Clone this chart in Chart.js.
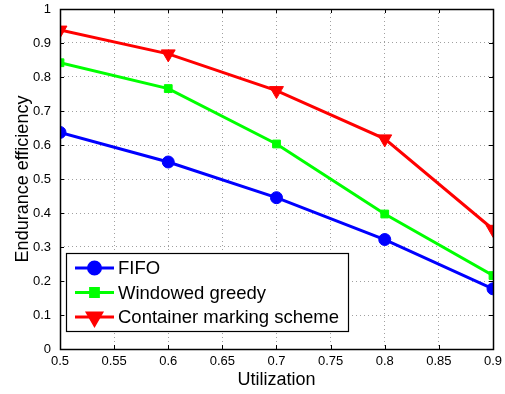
<!DOCTYPE html>
<html><head><meta charset="utf-8">
<script src="https://cdn.jsdelivr.net/npm/chart.js@4"></script>
<style>html,body{margin:0;padding:0;background:#fff}#wrap{width:505px;height:394px}</style>
</head><body><div id="wrap"><canvas id="c" width="505" height="394"></canvas></div>
<script>
const utilization = [0.5, 0.6, 0.7, 0.8, 0.9];
const fifo = [0.637, 0.550, 0.445, 0.322, 0.177];
const windowedGreedy = [0.842, 0.766, 0.603, 0.397, 0.216];
const containerMarking = [0.938, 0.868, 0.760, 0.618, 0.352];
const xTicks = [0.5, 0.55, 0.6, 0.65, 0.7, 0.75, 0.8, 0.85, 0.9];
const yTicks = [0, 0.1, 0.2, 0.3, 0.4, 0.5, 0.6, 0.7, 0.8, 0.9, 1];
const seriesNames = ['FIFO', 'Windowed greedy', 'Container marking scheme'];

const FONT = 'Liberation Sans, Arial, sans-serif';
const pts = arr => utilization.map((x, i) => ({x, y: arr[i]}));

const framePlugin = {
  id: 'frame',
  afterDatasetsDraw(chart) {
    const {ctx, chartArea: a, scales} = chart;
    ctx.save();
    ctx.strokeStyle = '#000';
    ctx.lineWidth = 1;
    ctx.beginPath();
    xTicks.forEach(v => {
      const px = Math.round(scales.x.getPixelForValue(v)) + 0.5;
      ctx.moveTo(px, a.bottom); ctx.lineTo(px, a.bottom - 4);
      ctx.moveTo(px, a.top); ctx.lineTo(px, a.top + 4);
    });
    yTicks.forEach(v => {
      const py = Math.round(scales.y.getPixelForValue(v)) + 0.5;
      ctx.moveTo(a.left, py); ctx.lineTo(a.left + 4, py);
      ctx.moveTo(a.right, py); ctx.lineTo(a.right - 4, py);
    });
    ctx.stroke();
    ctx.lineWidth = 1.5;
    ctx.strokeRect(Math.round(a.left) + 0.5, Math.round(a.top) + 0.5, Math.round(a.right - a.left), Math.round(a.bottom - a.top));
    // legend inside
    const lx = 66, ly = 253, lw = 282, lh = 78;
    ctx.fillStyle = '#fff';
    ctx.fillRect(lx, ly, lw, lh);
    ctx.lineWidth = 1.2;
    ctx.strokeRect(lx + 0.5, ly + 0.5, lw, lh);
    chart.data.datasets.forEach((ds, i) => {
      const cy = ly + 15 + i * 24.5;
      ctx.strokeStyle = ds.borderColor;
      ctx.lineWidth = 3;
      ctx.beginPath(); ctx.moveTo(lx + 9, cy); ctx.lineTo(lx + 48, cy); ctx.stroke();
      Chart.helpers.drawPoint(ctx, {pointStyle: ds.pointStyle, rotation: ds.rotation || 0, radius: ds.pointRadius, borderWidth: 1}, lx + 28.5, cy);
      ctx.fillStyle = ds.borderColor;
      ctx.fill();
      ctx.fillStyle = '#000';
      ctx.font = '18.5px ' + FONT;
      ctx.textBaseline = 'middle';
      ctx.fillText(ds.label, lx + 52, cy + 1);
    });
    ctx.restore();
  }
};

const mk = (label, data, color, style, radius, rotation) => ({
  label, data: pts(data), borderColor: color, backgroundColor: color,
  pointBackgroundColor: color, pointBorderColor: color, borderWidth: 3,
  pointStyle: style, pointRadius: radius, pointHoverRadius: radius, rotation: rotation || 0,
  pointBorderWidth: 1, tension: 0, fill: false
});

new Chart(document.getElementById('c'), {
  type: 'scatter',
  data: {
    datasets: [
      mk(seriesNames[0], fifo, '#0000ff', 'circle', 6),
      mk(seriesNames[1], windowedGreedy, '#00ff00', 'rect', 5.5),
      mk(seriesNames[2], containerMarking, '#ff0000', 'triangle', 8, 180)
    ].map(d => Object.assign(d, {showLine: true}))
  },
  options: {
    responsive: false, animation: false, devicePixelRatio: 1,
    layout: {padding: {top: 7, right: 12, left: 0, bottom: 0}},
    plugins: {legend: {display: false}, tooltip: {enabled: false}},
    scales: {
      x: {
        type: 'linear', min: 0.5, max: 0.9,
        afterBuildTicks: s => { s.ticks = xTicks.map(v => ({value: v})); },
        afterFit: s => { s.height = 45; s.paddingLeft = 0; s.paddingRight = 0; },
        grid: {color: '#a0a0a0', lineWidth: 1, borderDash: [1, 3], drawTicks: false},
        border: {display: false, dash: [1, 3]},
        ticks: {color: '#000', font: {family: FONT, size: 13}, padding: 5,
          callback: v => String(+v.toFixed(2)), maxRotation: 0, autoSkip: false},
        title: {display: true, text: 'Utilization', color: '#000', font: {family: FONT, size: 18}, padding: {top: 1, bottom: 3}}
      },
      y: {
        type: 'linear', min: 0, max: 1,
        afterBuildTicks: s => { s.ticks = yTicks.map(v => ({value: v})); },
        afterFit: s => { s.width = 60; s.paddingTop = 0; s.paddingBottom = 0; },
        grid: {color: '#a0a0a0', lineWidth: 1, borderDash: [1, 3], drawTicks: false},
        border: {display: false, dash: [1, 3]},
        ticks: {color: '#000', font: {family: FONT, size: 13}, padding: 9,
          callback: v => String(+v.toFixed(1)), autoSkip: false},
        title: {display: true, text: 'Endurance efficiency', color: '#000', font: {family: FONT, size: 18}, padding: {top: 12, bottom: 4}}
      }
    }
  },
  plugins: [framePlugin]
});
</script></body></html>
